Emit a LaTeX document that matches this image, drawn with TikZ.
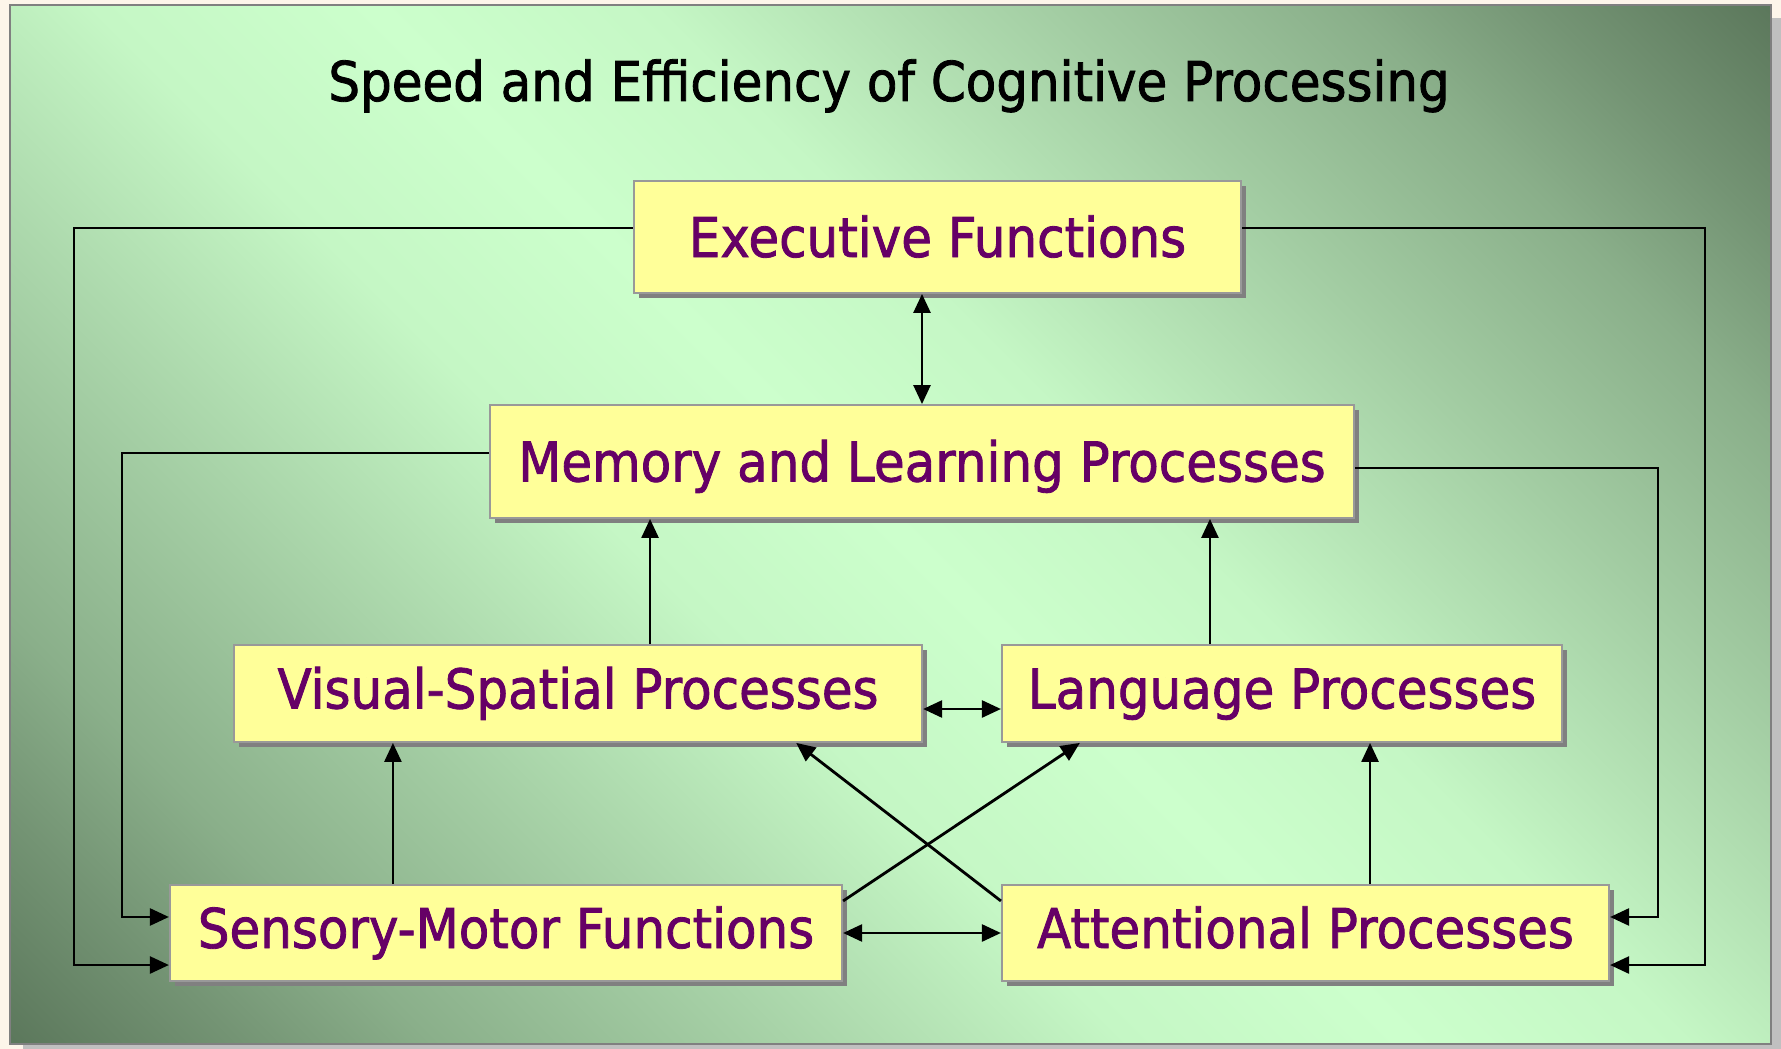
\documentclass[tikz,border=0pt]{standalone}
\usepackage{fontspec}
\setmainfont{DejaVu Sans}[FakeStretch=0.91, FakeBold=1.5]
\usetikzlibrary{arrows.meta,shadows,calc}

\definecolor{pagecream}{RGB}{253,245,234}
\definecolor{outershadow}{RGB}{192,192,192}
\definecolor{framegray}{RGB}{128,128,128}
\definecolor{bgdark}{RGB}{92,120,92}
\definecolor{bgfa}{RGB}{116,148,116}
\definecolor{bgfb}{RGB}{138,175,138}
\definecolor{bgfc}{RGB}{164,206,164}
\definecolor{bgfd}{RGB}{197,247,197}
\definecolor{bglight}{RGB}{204,255,204}
\definecolor{boxfill}{RGB}{255,255,153}
\definecolor{boxedge}{RGB}{153,153,153}
\definecolor{boxshadow}{RGB}{128,128,128}
\definecolor{labelpurple}{RGB}{102,0,102}

% light band along the main diagonal, darkening towards two opposite corners
\pgfdeclarehorizontalshading{bgshade}{100bp}{%
  color(0bp)=(bgdark); color(14.6bp)=(bgdark); color(20.3bp)=(bgfa);
  color(25.2bp)=(bgfb); color(33bp)=(bgfc); color(42.9bp)=(bgfd);
  color(50bp)=(bglight);
  color(57.1bp)=(bgfd); color(67bp)=(bgfc); color(74.8bp)=(bgfb);
  color(79.7bp)=(bgfa); color(85.4bp)=(bgdark); color(100bp)=(bgdark)}

\tikzset{
  procbox/.style={draw=boxedge, line width=0.5pt, fill=boxfill,
    text=labelpurple, font=\fontsize{15.6pt}{18pt}\selectfont,
    inner sep=0pt, text height=0.40cm, text depth=0cm,
    general shadow={fill=boxshadow, draw=none,
      shadow xshift=0.05cm, shadow yshift=-0.05cm}},
  lowbox/.style={procbox, text depth=0.10cm},
  heading/.style={text=black, font=\fontsize{15.6pt}{18pt}\selectfont,
    inner sep=0pt, anchor=base},
  link/.style={draw=black, line width=0.8pt,
    -{Triangle[length=5.4pt,width=4.8pt]}},
  duallink/.style={draw=black, line width=0.8pt,
    {Triangle[length=5.4pt,width=4.8pt]}-{Triangle[length=5.4pt,width=4.8pt]}}
}

\begin{document}
\begin{tikzpicture}[x=0.01cm, y=-0.01cm]
  \useasboundingbox (0,0) rectangle (1781,1049);

  % page, slide shadow, slide with its gradient
  \fill[pagecream] (0,0) rectangle (1781,1049);
  \fill[outershadow] (23,18) rectangle (1781,1049);
  \shade[shading=bgshade, shading angle=45] (10,5) rectangle (1771,1044);
  \draw[framegray, line width=0.6pt] (10,5) rectangle (1771,1044);

  % title
  \node[heading] (ttl) at (889,101) {Speed and Efficiency of Cognitive Processing};

  % process boxes
  \node[procbox, minimum width=6.07cm, minimum height=1.12cm] (exe) at (937.5,237) {Executive Functions};
  \node[procbox, minimum width=8.64cm, minimum height=1.13cm] (mem) at (922,461.5) {Memory and Learning Processes};
  \node[lowbox, minimum width=6.88cm, minimum height=0.97cm] (vis) at (578,693.5) {Visual-Spatial Processes};
  \node[lowbox, minimum width=5.60cm, minimum height=0.97cm] (lang) at (1282,693.5) {Language Processes};
  \node[lowbox, minimum width=6.72cm, minimum height=0.96cm] (sen) at (506,933) {Sensory-Motor Functions};
  \node[lowbox, minimum width=6.07cm, minimum height=0.96cm] (att) at (1305.5,933) {Attentional Processes};

  % routing columns of the outer feedback lines
  \coordinate (colA) at (74,600);
  \coordinate (colB) at (122,600);
  \coordinate (colC) at (1658,600);
  \coordinate (colD) at (1705,600);

  % outer feedback lines
  \draw[link] ([yshift=0.09cm]exe.west) -| (colA) |- ([yshift=-0.32cm]sen.west);
  \draw[link] ([yshift=0.09cm]exe.east) -| (colD) |- ([yshift=-0.32cm]att.east);
  \draw[link] ([yshift=0.085cm]mem.west) -| (colB) |- ([yshift=0.16cm]sen.west);
  \draw[link] ([yshift=-0.065cm]mem.east) -| (colC) |- ([yshift=0.16cm]att.east);

  % vertical links
  \draw[duallink] (mem.north) -- (mem.north |- exe.south);
  \draw[link] ([xshift=0.72cm]vis.north) -- ([xshift=0.72cm]vis.north |- mem.south);
  \draw[link] ([xshift=-0.72cm]lang.north) -- ([xshift=-0.72cm]lang.north |- mem.south);
  \draw[link] ([xshift=-1.13cm]sen.north) -- ([xshift=-1.13cm]sen.north |- vis.south);
  \draw[link] ([xshift=0.645cm]att.north) -- ([xshift=0.645cm]att.north |- lang.south);

  % horizontal links
  \draw[duallink] ([yshift=-0.155cm]vis.east) -- ([yshift=-0.155cm]vis.east -| lang.west);
  \draw[duallink] (sen.east) -- (sen.east -| att.west);

  % crossing links
  \draw[link] ([yshift=0.32cm]sen.east) -- ([xshift=-2.02cm]lang.south);
  \draw[link] ([yshift=0.32cm]att.west) -- ([xshift=2.18cm]vis.south);
\end{tikzpicture}
\end{document}
